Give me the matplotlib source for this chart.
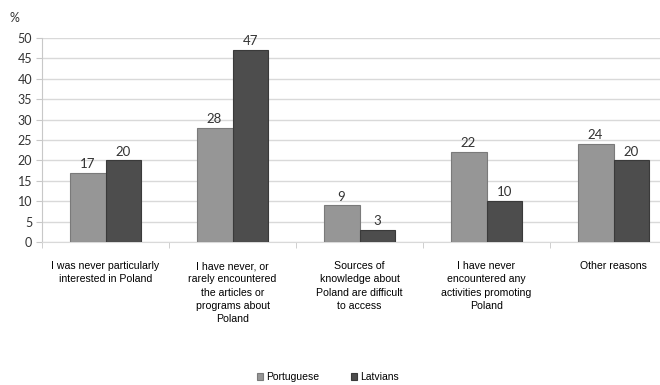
import numpy as np
import matplotlib
matplotlib.use('Agg')
import matplotlib.pyplot as plt

# data
categories = [
    'I was never particularly\ninterested in Poland',
    'I have never, or\nrarely encountered\nthe articles or\nprograms about\nPoland',
    'Sources of\nknowledge about\nPoland are difficult\nto access',
    'I have never\nencountered any\nactivities promoting\nPoland',
    'Other reasons',
]
portuguese = [17, 28, 9, 22, 24]
latvians = [20, 47, 3, 10, 20]
series_names = ['Portuguese', 'Latvians']
y_ticks = list(range(0, 55, 5))

label_font = ['Liberation Sans Narrow', 'Liberation Sans', 'DejaVu Sans']
num_font = ['Lato', 'DejaVu Sans']

fig = plt.figure(figsize=(6.6, 3.85), dpi=100)
ax = fig.add_axes([42 / 660, 1 - 242 / 385, 635 / 660, 204 / 385])

x = np.arange(len(categories))
w = 0.283
b1 = ax.bar(x - w / 2, portuguese, w, color='#969696', edgecolor='#7a7a7a',
            linewidth=0.8, label=series_names[0], zorder=3)
b2 = ax.bar(x + w / 2, latvians, w, color='#4d4d4d', edgecolor='#3a3a3a',
            linewidth=0.8, label=series_names[1], zorder=3)

for bars, vals in ((b1, portuguese), (b2, latvians)):
    for r, v in zip(bars, vals):
        ax.annotate(str(v), (r.get_x() + r.get_width() / 2, v),
                    xytext=(0, 2), textcoords='offset points',
                    ha='center', va='bottom', fontsize=9.5, family=num_font,
                    color='#333333')

ax.set_xlim(-0.5, len(categories) - 0.5)
ax.set_ylim(0, 50)
ax.set_yticks(y_ticks)
ax.set_yticklabels([str(t) for t in y_ticks], family=num_font, fontsize=9,
                   color='#333333')
ax.yaxis.grid(True, color='#d9d9d9', linewidth=1, zorder=0)
ax.set_axisbelow(True)

ax.set_xticks(x)
ax.set_xticklabels(categories, family=label_font, fontsize=7.6,
                   multialignment='center', linespacing=1.38)
ax.set_xticks(np.arange(len(categories)) - 0.5, minor=True)
ax.tick_params(axis='x', which='major', length=0, pad=14)
ax.tick_params(axis='x', which='minor', length=4, color='#c8c8c8')
ax.tick_params(axis='y', length=4, color='#c8c8c8', pad=3)

for s in ('top', 'right'):
    ax.spines[s].set_visible(False)
ax.spines['left'].set_color('#c8c8c8')
ax.spines['bottom'].set_color('#d9d9d9')

fig.text(10 / 660, 1 - 18 / 385, '%', fontsize=9, family=num_font,
         color='#333333', va='center')

fig.legend(handles=[b1, b2], labels=series_names, loc='center',
           bbox_to_anchor=(0.497, 1 - 377 / 385), ncol=2, frameon=False,
           prop={'family': label_font, 'size': 7.5}, handlelength=0.6,
           handleheight=0.6, handletextpad=0.3, columnspacing=3.0)

fig.savefig('out.png', dpi=100)
